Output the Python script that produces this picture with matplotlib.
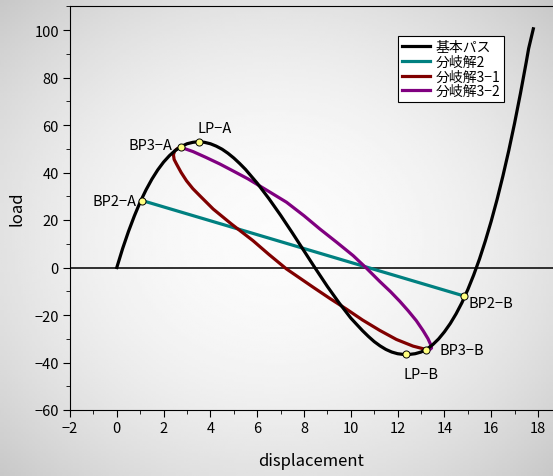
import numpy as np
import matplotlib
matplotlib.use("Agg")
import matplotlib.pyplot as plt
from matplotlib.ticker import MultipleLocator

plt.rcParams['font.family'] = ['Noto Sans CJK JP', 'DejaVu Sans']

# 基本パス
base_x = [0, 0.25, 0.5, 0.75, 1.0, 1.25, 1.5, 1.75, 2.0, 2.25, 2.5, 2.75,
          3.0, 3.25, 3.5, 3.75, 4.0, 4.25, 4.5, 4.75, 5.0, 5.25, 5.5, 6.0,
          6.5, 7.0, 7.5, 8.0, 8.46, 9.0, 9.5, 10.0, 10.5, 10.75, 11.0, 11.25,
          11.5, 11.75, 12.0, 12.25, 12.5, 12.75, 13.0, 13.25, 13.5, 13.75,
          14.0, 14.25, 14.5, 14.75, 15.0, 15.25, 15.5, 15.75, 16.0, 16.25,
          16.5, 16.75, 17.0, 17.25, 17.5, 17.6, 17.8]
base_y = [0, 8.0, 15.2, 21.7, 27.6, 32.7, 37.2, 41.1, 44.4, 47.1, 49.3, 50.9,
          52.1, 52.7, 53.0, 52.7, 52.1, 51.1, 49.8, 48.1, 46.1, 43.8, 41.3,
          35.5, 29.0, 22.0, 14.6, 7.0, 0, -8.0, -14.9, -21.3, -26.6, -29.0,
          -31.2, -33.0, -34.5, -35.6, -36.3, -36.6, -36.6, -36.3, -35.6,
          -34.4, -32.5, -30.1, -27.1, -23.6, -19.5, -14.8, -9.3, -3.2, 3.6,
          11.2, 19.5, 28.6, 38.5, 49.2, 60.8, 73.3, 86.6, 92.2, 100.5]

# 分岐解2
b2_x = [1.08, 14.84]
b2_y = [28.2, -12.0]

# 分岐解3-1
b31_x = [2.74, 2.58, 2.47, 2.42, 2.45, 2.55, 2.75, 2.98, 3.25, 3.55, 4.12,
         4.9, 5.82, 6.5, 7.25, 8.39, 9.1, 9.81, 10.5, 11.24, 11.95, 12.66,
         13.09, 13.2]
b31_y = [50.6, 50.0, 49.0, 47.5, 45.5, 43.6, 40.0, 36.5, 33.2, 30.2, 24.6,
         18.3, 11.3, 5.5, -0.6, -8.3, -13.0, -17.5, -22.1, -26.5, -30.3,
         -33.1, -34.2, -34.6]

# 分岐解3-2
b32_x = [2.74, 3.0, 3.26, 3.8, 4.4, 5.0, 5.61, 6.4, 7.25, 8.0, 8.68, 9.4,
         10.1, 10.67, 11.24, 11.7, 12.1, 12.45, 12.8, 13.09, 13.3, 13.42,
         13.45, 13.38, 13.2]
b32_y = [50.6, 49.7, 48.8, 46.4, 43.6, 40.5, 37.3, 32.6, 27.5, 21.8, 16.2,
         10.6, 5.0, -0.3, -5.9, -10.2, -14.3, -18.2, -22.4, -26.6, -30.0,
         -32.6, -33.9, -34.5, -34.6]

# 特異点
pt_names = ["BP2−A", "BP3−A", "LP−A", "LP−B", "BP3−B", "BP2−B"]
pt_x = [1.08, 2.74, 3.52, 12.34, 13.2, 14.84]
pt_y = [28.2, 50.6, 53.0, -36.6, -34.6, -12.0]
pt_offsets = [(-4, 0, "right", "center"), (-6, 2, "right", "center"),
              (11, 5, "center", "bottom"), (11, -9, "center", "top"),
              (10, 0, "left", "center"), (3, -5, "left", "center")]

fig = plt.figure(figsize=(5.53, 4.77), dpi=100)

# 背景のグラデーション
bg = fig.add_axes([0, 0, 1, 1], zorder=-10)
gx, gy = np.meshgrid(np.linspace(-1, 1, 200), np.linspace(-1, 1, 200))
r = np.sqrt(gx**2 + gy**2) / np.sqrt(2)
shade = 0.985 - 0.20 * r**2
bg.imshow(shade, cmap="gray", vmin=0, vmax=1, aspect="auto",
          extent=[0, 1, 0, 1])
bg.axis("off")

ax = fig.add_axes([70 / 553, 66 / 477, 483 / 553, 404 / 477])
ax.patch.set_alpha(0)

ax.axhline(0, color="#202020", linewidth=1.3, zorder=1)

ax.plot(base_x, base_y, color="black", linewidth=2.3, label="基本パス", zorder=3)
ax.plot(b2_x, b2_y, color="#008080", linewidth=2.3, label="分岐解2", zorder=2)
ax.plot(b31_x, b31_y, color="#800000", linewidth=2.3, label="分岐解3−1", zorder=2)
ax.plot(b32_x, b32_y, color="#800080", linewidth=2.3, label="分岐解3−2", zorder=2)

ax.scatter(pt_x, pt_y, s=26, facecolor="#ffff80", edgecolor="black",
           linewidth=0.7, zorder=5)
for name, x, y, (dx, dy, ha, va) in zip(pt_names, pt_x, pt_y, pt_offsets):
    ax.annotate(name, (x, y), xytext=(dx, dy), textcoords="offset points",
                ha=ha, va=va, fontsize=10.5)

ax.set_xlim(-2, -2 + 483 / 23.4)
ax.set_ylim(-60, 100 + 24 / 2.375)
ax.xaxis.set_major_locator(MultipleLocator(2))
ax.xaxis.set_minor_locator(MultipleLocator(1))
ax.yaxis.set_major_locator(MultipleLocator(20))
ax.yaxis.set_minor_locator(MultipleLocator(10))
ax.tick_params(which="major", direction="out", length=5, labelsize=10.5, pad=3)
ax.tick_params(which="minor", direction="out", length=3)
ax.spines["right"].set_visible(False)
ax.set_xlabel("displacement", fontsize=12, labelpad=12)
ax.set_ylabel("load", fontsize=12, labelpad=6)

leg = ax.legend(loc="upper left", bbox_to_anchor=((398 - 70) / 483, (411 - 37) / 404),
                fontsize=10, frameon=True, fancybox=False, framealpha=1,
                edgecolor="black", handlelength=2.0, borderpad=0.3,
                labelspacing=0.05, handletextpad=0.4, borderaxespad=0)
leg.get_frame().set_linewidth(0.8)

plt.savefig("out.png", dpi=100)
